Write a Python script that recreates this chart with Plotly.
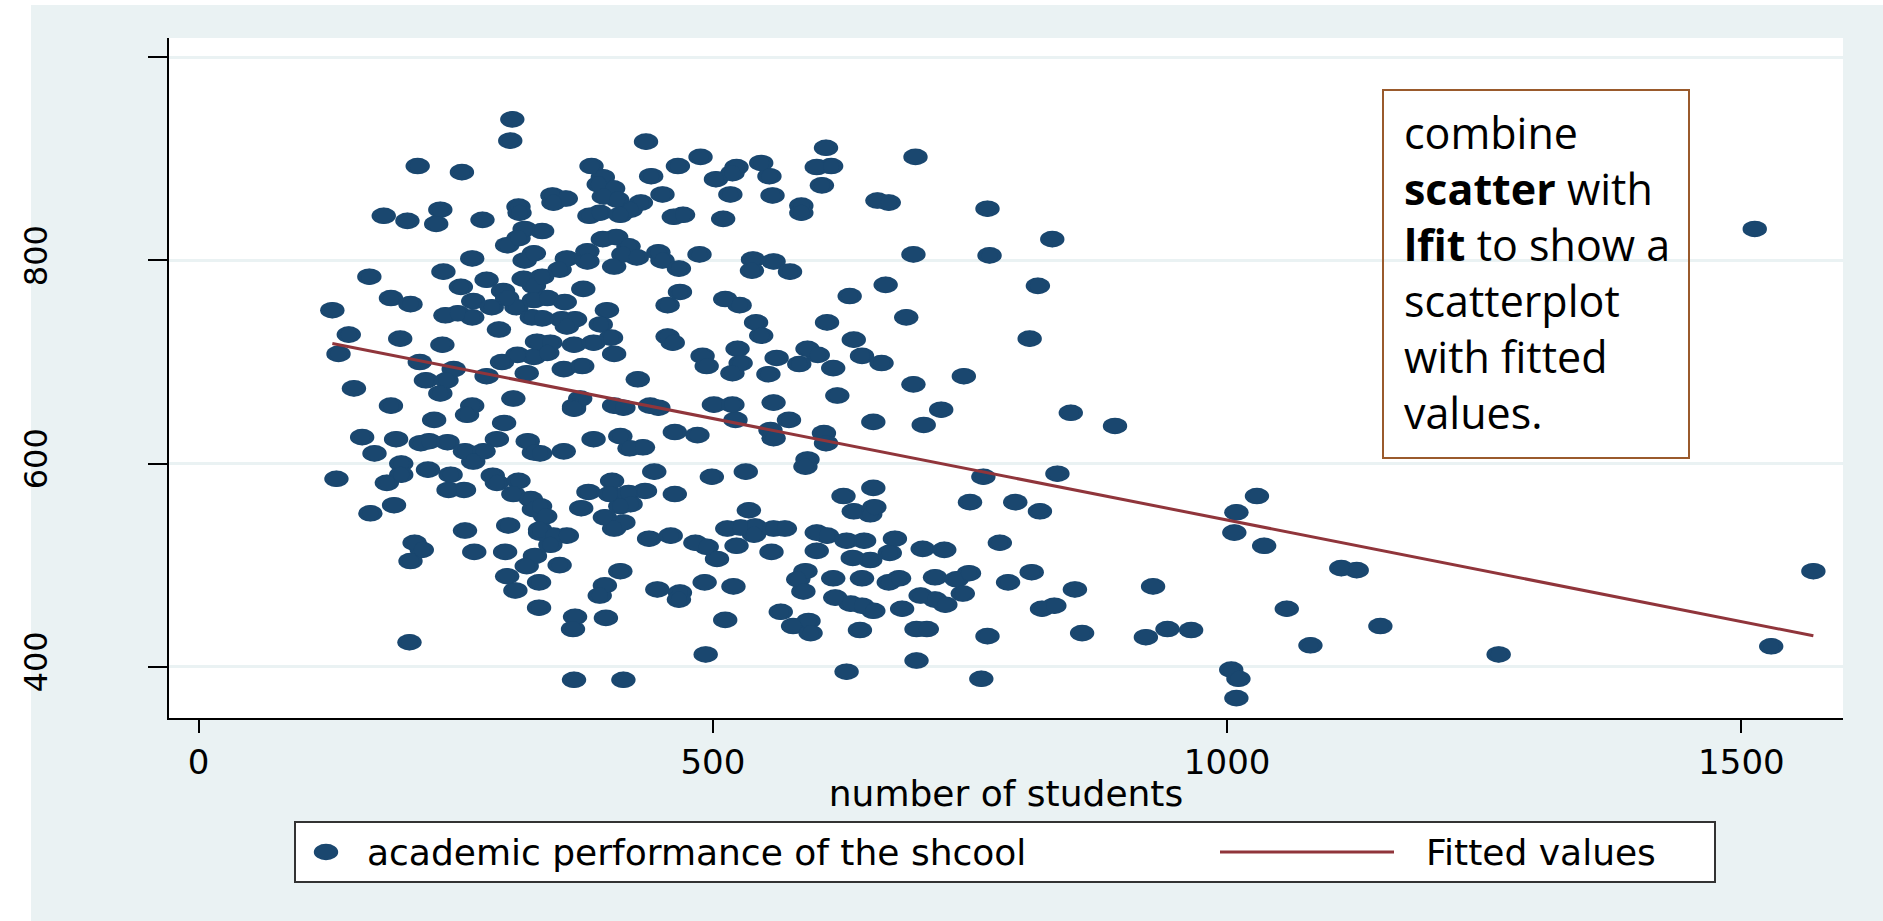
import plotly.graph_objects as go

# number of students (enrollment) per school
students = [
    305, 303, 213, 256, 180, 203, 235, 231, 276, 311,
    312, 317, 300, 311, 266, 317, 326, 238, 166, 255,
    280, 296, 316, 187, 206, 130, 267, 285, 309, 300,
    240, 252, 266, 324, 146, 196, 237, 292, 136, 215,
    248, 221, 241, 235, 280, 295, 310, 319, 329, 326,
    151, 187, 266, 306, 326, 326,
    435, 382, 488, 466, 547, 523, 555, 503, 519, 440,
    393, 389, 403, 344, 357, 451, 517, 558, 345, 394,
    407, 430, 420, 380, 390, 410, 462, 471, 510, 334,
    393, 406, 418, 378, 358, 378, 413, 426, 404, 447,
    451, 467, 487, 539, 538, 559, 351, 334, 374, 468,
    456, 512, 526, 356, 339, 397, 542, 547, 353, 366,
    358, 391, 334, 456, 461, 401, 342, 365, 384, 404,
    339, 355, 373, 427, 490, 494, 524, 527, 519, 554,
    562, 371, 365, 404, 439, 501, 519, 559,
    610, 697, 601, 615, 606, 586, 586, 660, 671, 767,
    695, 769, 575, 668, 633, 611, 688, 637, 592, 602,
    584, 645, 617, 664, 695, 744, 621, 722,
    229, 261, 297, 159, 192, 216, 224, 242, 290, 320,
    171, 259, 277, 267, 326, 134, 197, 197, 183, 223,
    245, 243, 258, 286, 290, 311, 306, 323, 326, 190,
    167, 259, 301, 332, 210, 217, 206, 268, 298, 327,
    319, 300, 308, 331, 331, 205,
    365, 413, 447, 522, 556, 559, 332, 355, 384, 410,
    419, 432, 463, 485, 443, 499, 532, 332, 337, 372,
    379, 402, 400, 418, 434, 420, 410, 395, 413, 404,
    463, 332, 345, 358, 342, 351, 438, 459, 483, 494,
    504, 514, 527, 541, 540, 523, 535, 559, 557, 410,
    395, 390, 446, 468, 467, 492, 520, 366, 364, 396,
    512, 566, 493, 365, 413,
    574, 656, 705, 608, 610, 592, 590, 763, 627, 656,
    637, 653, 657, 750, 794, 570, 601, 611, 630, 647,
    677, 672, 653, 636, 601, 704, 725, 779, 590, 583,
    588, 617, 645, 671, 681, 716, 737, 749, 743, 787,
    619, 634, 645, 656, 684, 702, 716, 726, 578, 593,
    595, 643, 698, 708, 767, 698, 630, 761,
    830, 816, 808, 848, 891, 835, 818, 852, 928, 820,
    832, 859, 921, 942, 965, 810, 1007, 1009, 1029, 1036,
    1058, 1004, 1011, 1009, 1081, 1111, 1126, 1149, 1264, 1529,
    1570, 1513,
]

# academic performance score per school
api00 = [
    939, 918, 893, 887, 844, 839, 850, 836, 840, 853,
    847, 831, 815, 822, 802, 800, 807, 789, 784, 774,
    781, 770, 782, 763, 757, 751, 760, 754, 754, 763,
    746, 748, 744, 744, 727, 723, 717, 732, 708, 700,
    693, 682, 682, 669, 686, 700, 707, 689, 720, 705,
    674, 657, 657, 664, 775, 761,
    917, 893, 902, 893, 896, 892, 883, 880, 886, 883,
    882, 875, 871, 864, 861, 865, 865, 864, 857, 863,
    860, 857, 850, 844, 847, 845, 843, 845, 841, 829,
    821, 823, 814, 809, 802, 799, 806, 803, 794, 808,
    800, 792, 806, 801, 790, 799, 791, 784, 772, 769,
    756, 762, 756, 759, 763, 751, 739, 726, 742, 742,
    735, 737, 743, 725, 719, 724, 719, 717, 719, 708,
    709, 693, 696, 683, 706, 696, 713, 699, 689, 688,
    704, 664, 656, 657, 657, 658, 658, 660,
    911, 902, 892, 893, 874, 854, 847, 859, 857, 851,
    806, 805, 789, 776, 765, 739, 744, 722, 713, 707,
    698, 706, 694, 699, 678, 686, 667, 653,
    643, 648, 640, 626, 624, 620, 622, 621, 624, 622,
    610, 612, 612, 602, 611, 585, 600, 589, 581, 594,
    589, 574, 574, 588, 581, 583, 570, 565, 555, 559,
    551, 534, 539, 532, 522, 515, 504, 513, 513, 509,
    499, 489, 475, 483, 458, 424,
    654, 655, 655, 643, 633, 625, 610, 612, 624, 627,
    615, 616, 631, 628, 592, 587, 592, 558, 548, 556,
    572, 583, 570, 571, 573, 560, 558, 547, 542, 536,
    570, 535, 529, 529, 520, 500, 526, 529, 522, 518,
    506, 536, 537, 538, 530, 519, 554, 536, 513, 494,
    480, 470, 476, 473, 466, 483, 479, 449, 437, 448,
    446, 454, 412, 387, 387,
    643, 641, 638, 630, 620, 604, 597, 587, 568, 576,
    553, 550, 557, 562, 562, 536, 532, 529, 524, 524,
    526, 512, 505, 507, 514, 516, 515, 522, 494, 486,
    474, 487, 487, 483, 487, 488, 486, 492, 472, 483,
    468, 462, 460, 455, 457, 470, 466, 461, 440, 445,
    433, 436, 437, 437, 430, 406, 395, 388,
    821, 775, 723, 650, 637, 590, 553, 476, 479, 457,
    460, 433, 429, 437, 436, 493, 532, 552, 568, 519,
    457, 397, 388, 369, 421, 497, 495, 440, 412, 420,
    494, 831,
]

# linear fit of api00 on students, evaluated at the smallest and largest school
fit_students = [130, 1570]
fit_api = [718.3, 430.4]

x_ticks = [0, 500, 1000, 1500]
y_ticks = [400, 600, 800, 1000]
y_tick_text = ["400", "600", "800", ""]

legend_labels = ["academic performance of the shcool", "Fitted values"]
note_text = ("combine<br><b>scatter</b> with<br><b>lfit</b> to show a<br>"
             "scatterplot<br>with fitted<br>values.")

W, H = 1883, 921
ML, MR, MT, MB = 169, 40, 38, 203
PW, PH = W - ML - MR, H - MT - MB

NAVY = "#1A476F"
MAROON = "#90353B"
BG = "#EAF2F3"
FONT = "DejaVu Sans"


def px(xpix):
    return (xpix - ML) / PW


def py(ypix):
    return (H - MB - ypix) / PH


fig = go.Figure()
fig.add_trace(go.Scatter(
    x=students, y=api00, mode="markers", name=legend_labels[0],
    marker=dict(color=NAVY, size=16, line=dict(width=0)),
    showlegend=False, hoverinfo="x+y",
))
fig.add_trace(go.Scatter(
    x=fit_students, y=fit_api, mode="lines", name=legend_labels[1],
    line=dict(color=MAROON, width=3), showlegend=False,
))

shapes = [
    # white page edge around the graph region
    dict(type="rect", xref="paper", yref="paper", x0=px(0), x1=px(W),
         y0=py(5), y1=py(0), fillcolor="white", line_width=0, layer="below"),
    dict(type="rect", xref="paper", yref="paper", x0=px(0), x1=px(31),
         y0=py(H), y1=py(0), fillcolor="white", line_width=0, layer="below"),
]

# stretched (elliptical) scatter markers
for xv, yv in zip(students, api00):
    shapes.append(dict(
        type="circle", xref="x", yref="y", xsizemode="pixel", ysizemode="pixel",
        xanchor=xv, yanchor=yv, x0=-12.2, x1=12.2, y0=-8.3, y1=8.3,
        fillcolor=NAVY, line_width=0, layer="between",
    ))

# note box
shapes.append(dict(type="rect", xref="paper", yref="paper",
                   x0=px(1383), x1=px(1689), y0=py(458), y1=py(90),
                   line=dict(color="#9A5A2C", width=2), layer="above"))

# legend box and keys
shapes.append(dict(type="rect", xref="paper", yref="paper",
                   x0=px(295), x1=px(1715), y0=py(882), y1=py(822),
                   fillcolor="white", line=dict(color="#333333", width=2),
                   layer="above"))
shapes.append(dict(type="circle", xref="paper", yref="paper",
                   xsizemode="pixel", ysizemode="pixel",
                   xanchor=px(326), yanchor=py(852),
                   x0=-12.2, x1=12.2, y0=-8.3, y1=8.3,
                   fillcolor=NAVY, line_width=0, layer="above"))
shapes.append(dict(type="line", xref="paper", yref="paper",
                   x0=px(1220), x1=px(1394), y0=py(852), y1=py(852),
                   line=dict(color=MAROON, width=3), layer="above"))

annotations = [
    dict(text=note_text, xref="paper", yref="paper", x=px(1402), y=py(272),
         xanchor="left", yanchor="middle", align="left", showarrow=False,
         font=dict(family="Open Sans", size=43, color="black")),
    dict(text=legend_labels[0], xref="paper", yref="paper", x=px(365), y=py(852),
         xanchor="left", yanchor="middle", showarrow=False,
         font=dict(family=FONT, size=36, color="black")),
    dict(text=legend_labels[1], xref="paper", yref="paper", x=px(1424), y=py(852),
         xanchor="left", yanchor="middle", showarrow=False,
         font=dict(family=FONT, size=36, color="black")),
]

fig.update_layout(
    width=W, height=H,
    margin=dict(l=ML, r=MR, t=MT, b=MB, pad=0),
    paper_bgcolor=BG, plot_bgcolor="white",
    showlegend=False,
    shapes=shapes, annotations=annotations,
    font=dict(family=FONT, color="black"),
)

fig.update_xaxes(
    range=[-28.8, 1598.8], tickvals=x_ticks, ticks="outside", ticklen=13,
    tickwidth=2, tickcolor="black", showline=True, linecolor="black",
    linewidth=2, showgrid=False, zeroline=False,
    tickfont=dict(family=FONT, size=34, color="black"),
    title=dict(text="number of students", standoff=0,
               font=dict(family=FONT, size=36, color="black")),
)
fig.update_yaxes(
    range=[349.4, 1019.1], tickvals=y_ticks, ticktext=y_tick_text,
    tickangle=-90, ticks="outside", ticklen=19, tickwidth=2, tickcolor="black",
    showline=True, linecolor="black", linewidth=2,
    showgrid=True, gridcolor=BG, gridwidth=3, zeroline=False,
    tickfont=dict(family=FONT, size=32, color="black"),
    ticklabelstandoff=88,
)

fig.write_html("out.html")
